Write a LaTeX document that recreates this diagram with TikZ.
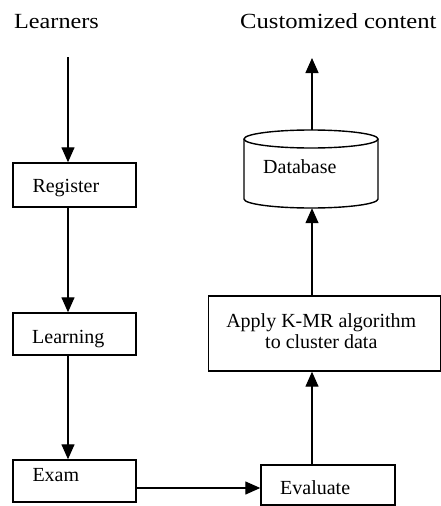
\documentclass[tikz,border=0pt]{standalone}
\usepackage{fontspec}
\setmainfont{Liberation Serif}
\usepackage{graphicx}
\usetikzlibrary{arrows.meta}
\begin{document}
\begin{tikzpicture}[x=1pt,y=-1pt,
  box/.style={draw, line width=1.4pt, rectangle, inner sep=0pt},
  lbl/.style={inner sep=0pt, font=\fontsize{20}{24}\selectfont},
  ttl/.style={inner sep=0pt, font=\fontsize{21.6}{26}\selectfont},
  arr/.style={line width=1.3pt, -{Triangle[length=15pt,width=13pt]}}]
\useasboundingbox (0,0) rectangle (441,506);
% boxes
\node[box, minimum width=123pt, minimum height=44pt] (reg) at (74.5,185) {};
\node[box, minimum width=123pt, minimum height=42pt] (learn) at (74.5,334) {};
\node[box, minimum width=123pt, minimum height=42pt] (exam) at (74.5,481) {};
\node[box, minimum width=134pt, minimum height=40pt] (eval) at (328,485) {};
\node[box, minimum width=232pt, minimum height=75pt] (apply) at (324.3,333.5) {};
% database cylinder
\node[inner sep=0pt, minimum width=134pt, minimum height=78pt] (db) at (311,169) {};
\draw[line width=1.4pt] (311,139) ellipse [x radius=67, y radius=9];
\draw[line width=1.4pt] (244,139) -- (244,199) arc[start angle=180, end angle=360, x radius=67, y radius=-9] -- (378,139);
% labels
\node[ttl, anchor=base west] (tL) at (14,28.3) {\scalebox{1.12}[1]{Learners}};
\node[ttl, anchor=base west] (tC) at (240,28.3) {\scalebox{1.14}[1]{Customized content}};
\node[lbl, anchor=base west] (regt) at (32.3,192.7) {Register};
\node[lbl, anchor=base west] (learnt) at (32,343) {Learning};
\node[lbl, anchor=base west] (examt) at (32.3,481) {Exam};
\node[lbl, anchor=base west] (evalt) at (280,494) {Evaluate};
\node[lbl, anchor=base west] (dbt) at (263,173) {Database};
\node[lbl, anchor=base] (ap1) at (321.3,327) {Apply K-MR algorithm};
\node[lbl, anchor=base] (ap2) at (321.3,348.3) {to cluster data};
% connectors
\coordinate (cL) at (68,57);
\coordinate (cT) at (312,58);
\coordinate (cE) at (0,488);
\draw[arr] (cL) -- (cL |- reg.north);
\draw[arr] (reg.south -| cL) -- (learn.north -| cL);
\draw[arr] (learn.south -| cL) -- (exam.north -| cL);
\draw[arr] (exam.east |- cE) -- (eval.west |- cE);
\draw[arr] (eval.north -| cT) -- (apply.south -| cT);
\draw[arr] (apply.north -| cT) -- (db.south -| cT);
\draw[arr] (db.north -| cT) -- (cT);
\end{tikzpicture}
\end{document}
